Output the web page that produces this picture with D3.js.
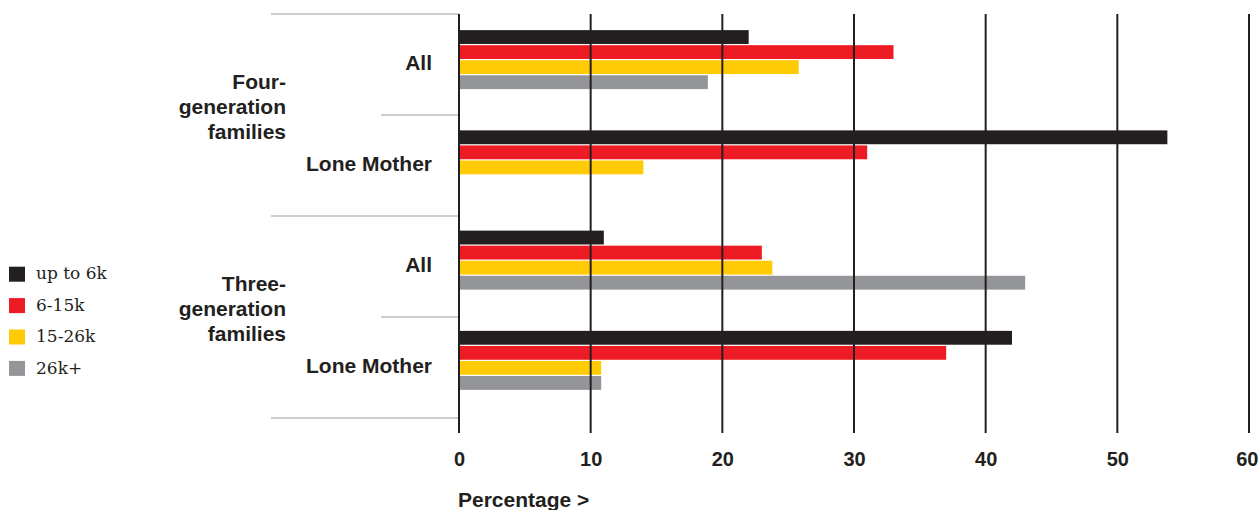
<!DOCTYPE html>
<html>
<head>
<meta charset="utf-8">
<script src="https://cdn.jsdelivr.net/npm/d3@7"></script>
<style>
  html, body { margin: 0; padding: 0; background: #fff; }
  svg { display: block; }
  .lbl { font-family: "Liberation Sans", Arial, Helvetica, sans-serif; font-weight: bold; fill: #231f20; }
  .legend-text { font-family: "DejaVu Serif", Georgia, serif; fill: #231f20; }
</style>
</head>
<body>
<svg id="chart" width="1259" height="510"></svg>
<script>
// Family types and their sub-rows
const groups = ["Four-generation families", "Three-generation families"];
const groupLabelLines = [["Four-", "generation", "families"], ["Three-", "generation", "families"]];
const subgroups = ["All", "Lone Mother"];

// Income bands (legend order = bar order within a row)
const incomeBands = ["up to 6k", "6-15k", "15-26k", "26k+"];
const bandColors = ["#231f20", "#ed1c24", "#ffcb05", "#939598"];

// Percentages per row: [Four-gen All, Four-gen Lone Mother, Three-gen All, Three-gen Lone Mother]
const upTo6k     = [22, 53.8, 11, 42];
const from6to15k = [33, 31, 23, 37];
const from15to26k = [25.8, 14, 23.8, 10.8];
const over26k    = [18.9, 0, 43, 10.8];

const xTicks = [0, 10, 20, 30, 40, 50, 60];
const axisTitle = "Percentage >";

// Build rows from the arrays above
const seriesValues = [upTo6k, from6to15k, from15to26k, over26k];
const rows = [];
groups.forEach((g, gi) => {
  subgroups.forEach((s, si) => {
    const ri = gi * subgroups.length + si;
    rows.push({
      id: g + "|" + s,
      group: g,
      groupIndex: gi,
      label: s,
      values: incomeBands.map((b, bi) => ({ band: b, value: seriesValues[bi][ri] }))
    });
  });
});
const rowIds = rows.map(r => r.id);

const svg = d3.select("#chart");

// Scales
const x = d3.scaleLinear().domain([0, 60]).range([459, 1249]);
const yRow = d3.scaleBand().domain(rowIds).range([14, 418]);          // row dividers & labels
const yBar = d3.scaleBand().domain(rowIds).range([9.5, 410.5]);       // bar blocks
const ySeries = d3.scaleBand().domain(incomeBands).range([-29.5, 29.5]).paddingInner(0.08);
const color = d3.scaleOrdinal().domain(incomeBands).range(bandColors);

// Bars
const rowG = svg.append("g").selectAll("g").data(rows).join("g")
  .attr("transform", d => `translate(0,${yBar(d.id) + yBar.bandwidth() / 2})`);
rowG.selectAll("rect").data(d => d.values.filter(v => v.value > 0)).join("rect")
  .attr("x", x(0))
  .attr("y", d => ySeries(d.band))
  .attr("width", d => x(d.value) - x(0))
  .attr("height", ySeries.bandwidth())
  .attr("fill", d => color(d.band));

// Row dividers: long between family types, short within a family type
const boundaries = rowIds.map((id, i) => ({ y: yRow(id), long: i % subgroups.length === 0 }));
boundaries.push({ y: yRow.range()[1], long: true });
svg.append("g").selectAll("line").data(boundaries).join("line")
  .attr("x1", d => d.long ? 271 : 381)
  .attr("x2", x(0))
  .attr("y1", d => d.y)
  .attr("y2", d => d.y)
  .attr("stroke", "#bcbec0")
  .attr("stroke-width", 1.5);

// Vertical gridlines, drawn over the bars
const gridBottom = yRow.range()[1] + 15;
svg.append("g").selectAll("line").data(xTicks).join("line")
  .attr("x1", d => x(d))
  .attr("x2", d => x(d))
  .attr("y1", yRow.range()[0])
  .attr("y2", gridBottom)
  .attr("stroke", "#231f20")
  .attr("stroke-width", 2);

// X axis tick labels
const axis = svg.append("g")
  .attr("transform", `translate(0,${gridBottom})`)
  .call(d3.axisBottom(x).tickValues(xTicks).tickSize(0).tickPadding(19).tickFormat(d3.format("d")));
axis.select(".domain").remove();
axis.selectAll("text")
  .attr("class", "lbl")
  .style("font-size", "20px")
  .attr("fill", "#231f20");
// keep the last label inside the right edge
axis.selectAll(".tick").filter(d => d === xTicks[xTicks.length - 1]).select("text")
  .attr("text-anchor", "end")
  .attr("dx", 9);

// Axis title
svg.append("text")
  .attr("class", "lbl")
  .attr("x", x(0) - 1)
  .attr("y", 507)
  .style("font-size", "21px")
  .text(axisTitle);

// Row labels
svg.append("g").selectAll("text").data(rows).join("text")
  .attr("class", "lbl")
  .attr("text-anchor", "end")
  .attr("x", 432)
  .attr("y", d => yRow(d.id) + yRow.bandwidth() / 2 + 5.6)
  .style("font-size", "21px")
  .text(d => d.label);

// Family type labels
groups.forEach((g, gi) => {
  const ids = rows.filter(r => r.groupIndex === gi).map(r => r.id);
  const cy = d3.mean(ids, id => yRow(id) + yRow.bandwidth() / 2);
  const t = svg.append("text")
    .attr("class", "lbl")
    .attr("text-anchor", "end")
    .style("font-size", "21px");
  groupLabelLines[gi].forEach((line, li) => {
    t.append("tspan")
      .attr("x", 286)
      .attr("y", cy + (li - 1) * 24.8 - 1)
      .text(line);
  });
});

// Legend
const legend = svg.append("g").selectAll("g").data(incomeBands).join("g")
  .attr("transform", (d, i) => `translate(9,${266.7 + i * 31.4})`);
legend.append("rect")
  .attr("width", 16)
  .attr("height", 15)
  .attr("fill", d => color(d));
legend.append("text")
  .attr("class", "legend-text")
  .attr("x", 27)
  .attr("y", 12.6)
  .style("font-size", "17px")
  .text(d => d);
</script>
</body>
</html>
